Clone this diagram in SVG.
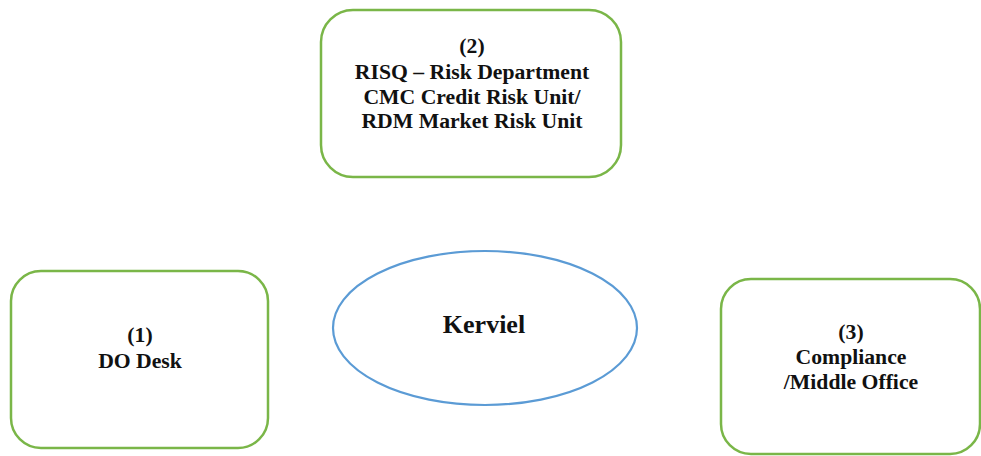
<svg xmlns="http://www.w3.org/2000/svg" width="981" height="456" viewBox="0 0 981 456">
<style>
.box{fill:#fff;stroke:#7ab648;stroke-width:2.5}
.ell{fill:#fff;stroke:#5b9bd5;stroke-width:2.2}
.t,.k{font-family:'Liberation Serif','DejaVu Serif',serif;font-weight:bold;fill:#111;text-anchor:middle}
.t{font-size:21.7px}
.k{font-size:26px}
</style>
<rect width="981" height="456" fill="#fff"/>
<g id="connectors"></g>
<g id="node2">
<rect class="box" x="321" y="10" width="300" height="167" rx="32"/>
<text class="t" x="472" y="53">(2)</text>
<text class="t" x="472" y="79">RISQ – Risk Department</text>
<text class="t" x="472" y="104">CMC Credit Risk Unit/</text>
<text class="t" x="472" y="128">RDM Market Risk Unit</text>
</g>
<g id="node1">
<rect class="box" x="11" y="271" width="257" height="177" rx="30"/>
<text class="t" x="140" y="342">(1)</text>
<text class="t" x="140" y="368">DO Desk</text>
</g>
<g id="node3">
<rect class="box" x="721" y="279" width="259" height="175" rx="30"/>
<text class="t" x="851" y="339">(3)</text>
<text class="t" x="851" y="364">Compliance</text>
<text class="t" x="851" y="389">/Middle Office</text>
</g>
<g id="kerviel">
<ellipse class="ell" cx="485" cy="328" rx="152" ry="77"/>
<text class="k" x="484" y="333">Kerviel</text>
</g>
</svg>
